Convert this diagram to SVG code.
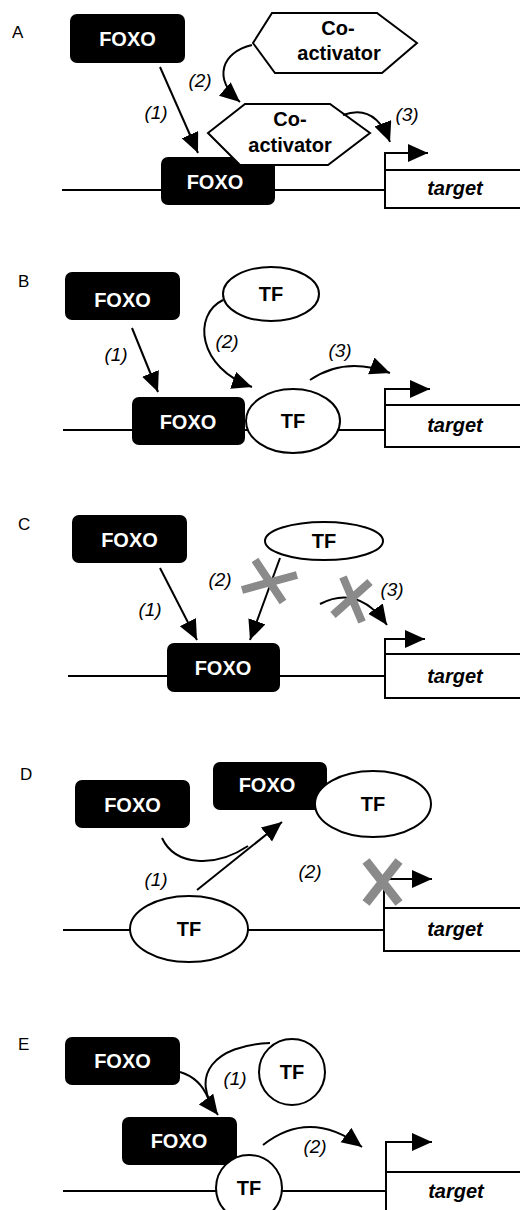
<svg xmlns="http://www.w3.org/2000/svg" width="520" height="1210" viewBox="0 0 520 1210">
<defs>
<marker id="ah" markerUnits="userSpaceOnUse" markerWidth="22" markerHeight="20" refX="20" refY="9" orient="auto">
<path d="M0,0 L20,9 L0,18 z" fill="#000"/>
</marker>
<style>
.ln{fill:none;stroke:#000;stroke-width:2}
.arr{fill:none;stroke:#000;stroke-width:2;marker-end:url(#ah)}
.box{fill:#000}
.wf{fill:#fff;stroke:#000;stroke-width:2}
.t{font-family:"Liberation Sans",Arial,sans-serif;font-weight:bold;font-size:20px;text-anchor:middle}
.w{fill:#fff}
.n{font-family:"Liberation Sans",Arial,sans-serif;font-style:italic;font-size:19px;text-anchor:middle}
.p{font-family:"Liberation Sans",Arial,sans-serif;font-size:17px}
.tg{font-family:"Liberation Sans",Arial,sans-serif;font-weight:bold;font-style:italic;font-size:20px;text-anchor:middle}
.x{stroke:#8a8a8a;stroke-width:8;fill:none}
.xd{stroke:#8a8a8a;stroke-width:9;fill:none}
</style>
</defs>
<rect width="520" height="1210" fill="#fff"/>

<!-- Panel A -->
<g id="panelA">
<text class="p" x="12" y="38">A</text>
<g id="A-dna"><line class="ln" x1="62" y1="190" x2="385" y2="190"/>
<rect class="wf" x="385" y="170" width="145" height="38"/>
<text class="tg" x="455" y="195">target</text></g>
<g id="A-foxo1"><rect class="box" x="70" y="14" width="115" height="49" rx="7"/><text class="t w" x="127.5" y="46">FOXO</text></g>
<g id="A-coact1"><polygon class="wf" points="253,43 272,13 377,13 417,43 382,73 275,73"/>
<text class="t" x="338" y="35">Co-</text><text class="t" x="339" y="60">activator</text></g>
<g id="A-foxo2"><rect class="box" x="161" y="157" width="114" height="48" rx="7"/><text class="t w" x="215" y="189">FOXO</text></g>
<g id="A-coact2"><polygon class="wf" points="208,133 245,104 330,104 370,133 328,165 240,165"/>
<text class="t" x="290" y="126">Co-</text><text class="t" x="290" y="152">activator</text></g>
<g id="A-conn">
<path class="arr" d="M385 170 V153 H428" stroke-width="2.5"/>
<path class="arr" d="M160 67 L198 153"/>
<path class="arr" d="M252 45 C 222 52 212 78 240 102"/>
<path class="arr" d="M343 115 Q 375 103 390 142"/>
</g>
<text class="n" x="156" y="119">(1)</text>
<text class="n" x="200" y="87">(2)</text>
<text class="n" x="407" y="121">(3)</text>
</g>

<!-- Panel B -->
<g id="panelB">
<text class="p" x="18" y="287">B</text>
<g id="B-dna"><line class="ln" x1="63" y1="430" x2="385" y2="430"/>
<rect class="wf" x="385" y="405" width="145" height="42"/>
<text class="tg" x="455" y="432">target</text></g>
<g id="B-foxo1"><rect class="box" x="65" y="272" width="115" height="48" rx="7"/><text class="t w" x="122.5" y="307">FOXO</text></g>
<g id="B-tf1"><ellipse class="wf" cx="271" cy="294" rx="48" ry="27"/><text class="t" x="271" y="301">TF</text></g>
<g id="B-foxo2"><rect class="box" x="132" y="397" width="113" height="48" rx="7"/><text class="t w" x="188" y="429">FOXO</text></g>
<g id="B-tf2"><ellipse class="wf" cx="293" cy="421" rx="47" ry="32"/><text class="t" x="293" y="428">TF</text></g>
<g id="B-conn">
<path class="arr" d="M385 405 V389 H430" stroke-width="2.5"/>
<path class="arr" d="M132 328 L158 392"/>
<path class="arr" d="M223 300 C 192 315 198 368 252 387"/>
<path class="arr" d="M310 380 Q 345 356 390 373"/>
</g>
<text class="n" x="116" y="361">(1)</text>
<text class="n" x="227" y="348">(2)</text>
<text class="n" x="340" y="357">(3)</text>
</g>

<!-- Panel C -->
<g id="panelC">
<text class="p" x="18" y="530">C</text>
<g id="C-dna"><line class="ln" x1="68" y1="676" x2="385" y2="676"/>
<rect class="wf" x="385" y="654" width="145" height="44"/>
<text class="tg" x="455" y="683">target</text></g>
<g id="C-foxo1"><rect class="box" x="72" y="515" width="115" height="48" rx="7"/><text class="t w" x="129.5" y="547">FOXO</text></g>
<g id="C-tf"><ellipse class="wf" cx="324" cy="541" rx="59" ry="19"/><text class="t" x="324" y="548">TF</text></g>
<g id="C-foxo2"><rect class="box" x="167" y="643" width="113" height="49" rx="7"/><text class="t w" x="223" y="675">FOXO</text></g>
<g id="C-conn">
<path class="arr" d="M385 654 V639 H425" stroke-width="2.5"/>
<path class="arr" d="M160 568 L197 640"/>
<path class="arr" d="M280 558 L250 640"/>
<path class="arr" d="M320 604 Q 358 584 387 625"/>
<path class="x" d="M242 590 L297 575 M255 560 L283 602"/>
<path class="x" d="M333 615 L370 582 M343 577 L362 622"/>
</g>
<text class="n" x="150" y="616">(1)</text>
<text class="n" x="220" y="586">(2)</text>
<text class="n" x="392" y="596">(3)</text>
</g>

<!-- Panel D -->
<g id="panelD">
<text class="p" x="20" y="780">D</text>
<g id="D-dna"><line class="ln" x1="63" y1="930" x2="384" y2="930"/>
<rect class="wf" x="384" y="908" width="146" height="43"/>
<text class="tg" x="455" y="936">target</text></g>
<g id="D-foxo1"><rect class="box" x="75" y="780" width="115" height="48" rx="7"/><text class="t w" x="132.5" y="812">FOXO</text></g>
<g id="D-foxo2"><rect class="box" x="213" y="762" width="114" height="48" rx="7"/><text class="t w" x="267" y="792">FOXO</text></g>
<g id="D-tf1"><ellipse class="wf" cx="373" cy="804" rx="58" ry="33"/><text class="t" x="373" y="811">TF</text></g>
<g id="D-tf2"><ellipse class="wf" cx="189" cy="929" rx="59" ry="33"/><text class="t" x="189" y="936">TF</text></g>
<g id="D-conn">
<path class="arr" d="M384 908 V879 H432" stroke-width="2.5"/>
<path class="arr" d="M197 890 L282 822"/>
<path class="ln" d="M162 838 C 175 866 215 868 248 846"/>
<path class="xd" d="M366 861 L399 903 M399 861 L366 903"/>
</g>
<text class="n" x="156" y="886">(1)</text>
<text class="n" x="310" y="878">(2)</text>
</g>

<!-- Panel E -->
<g id="panelE">
<text class="p" x="18" y="1050">E</text>
<g id="E-dna"><line class="ln" x1="63" y1="1191" x2="386" y2="1191"/>
<rect class="wf" x="386" y="1172" width="144" height="50"/>
<text class="tg" x="456" y="1198">target</text></g>
<g id="E-foxo1"><rect class="box" x="65" y="1037" width="115" height="48" rx="7"/><text class="t w" x="122.5" y="1068">FOXO</text></g>
<g id="E-tf1"><circle class="wf" cx="292" cy="1072" r="33"/><text class="t" x="292" y="1079">TF</text></g>
<g id="E-foxo2"><rect class="box" x="122" y="1117" width="115" height="48" rx="7"/><text class="t w" x="179" y="1148">FOXO</text></g>
<g id="E-tf2"><circle class="wf" cx="249" cy="1188" r="33"/><text class="t" x="249" y="1195">TF</text></g>
<g id="E-conn">
<path class="arr" d="M386 1172 V1142 H432" stroke-width="2.5"/>
<path class="arr" d="M270 1043 C 215 1045 188 1075 218 1115"/>
<path class="ln" d="M180 1072 Q 200 1078 208 1098"/>
<path class="arr" d="M263 1145 Q 310 1108 362 1147"/>
</g>
<text class="n" x="235" y="1085">(1)</text>
<text class="n" x="315" y="1153">(2)</text>
</g>
</svg>
